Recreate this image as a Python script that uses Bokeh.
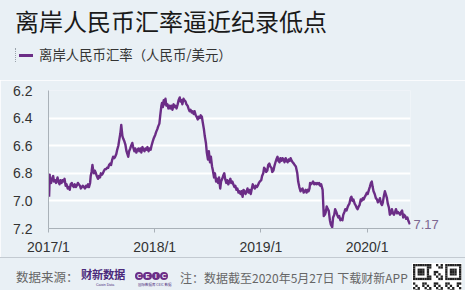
import pandas as pd
from bokeh.plotting import figure
from bokeh.layouts import column
from bokeh.models import (Range1d, FixedTicker, DatetimeTickFormatter, NumeralTickFormatter,
                          LinearAxis, Div)
from bokeh.embed import file_html
from bokeh.resources import INLINE

# ---------------- data ----------------
dates_2017 = [
    "2017-01-03", "2017-01-04", "2017-01-05", "2017-01-06", "2017-01-10", "2017-01-13", "2017-01-17", "2017-01-20",
    "2017-01-24", "2017-01-27", "2017-02-01", "2017-02-04", "2017-02-08", "2017-02-11", "2017-02-15", "2017-02-18",
    "2017-02-22", "2017-02-25", "2017-03-01", "2017-03-04", "2017-03-08", "2017-03-11", "2017-03-15", "2017-03-18",
    "2017-03-22", "2017-03-25", "2017-03-29", "2017-04-01", "2017-04-05", "2017-04-08", "2017-04-12", "2017-04-15",
    "2017-04-19", "2017-04-22", "2017-04-26", "2017-04-29", "2017-05-03", "2017-05-06", "2017-05-10", "2017-05-13",
    "2017-05-17", "2017-05-20", "2017-05-24", "2017-05-26", "2017-05-29", "2017-06-01", "2017-06-03", "2017-06-06",
    "2017-06-09", "2017-06-13", "2017-06-16", "2017-06-20", "2017-06-23", "2017-06-27", "2017-06-30", "2017-07-04",
    "2017-07-07", "2017-07-11", "2017-07-14", "2017-07-18", "2017-07-21", "2017-07-25", "2017-07-28", "2017-08-01",
    "2017-08-04", "2017-08-08", "2017-08-11", "2017-08-15", "2017-08-18", "2017-08-22", "2017-08-25", "2017-08-29",
    "2017-09-01", "2017-09-05", "2017-09-08", "2017-09-10", "2017-09-12", "2017-09-15", "2017-09-19", "2017-09-22",
    "2017-09-26", "2017-09-29", "2017-10-02", "2017-10-05", "2017-10-09", "2017-10-12", "2017-10-16", "2017-10-19",
    "2017-10-23", "2017-10-26", "2017-10-30", "2017-11-02", "2017-11-06", "2017-11-09", "2017-11-13", "2017-11-16",
    "2017-11-20", "2017-11-23", "2017-11-27", "2017-11-30", "2017-12-04", "2017-12-07", "2017-12-11", "2017-12-14",
    "2017-12-18", "2017-12-21", "2017-12-25", "2017-12-28",
]
rate_2017 = [
    6.97, 6.91, 6.81, 6.85, 6.87, 6.84, 6.82, 6.86,
    6.85, 6.87, 6.83, 6.86, 6.88, 6.85, 6.87, 6.85,
    6.86, 6.84, 6.89, 6.88, 6.91, 6.90, 6.92, 6.88,
    6.87, 6.89, 6.90, 6.88, 6.90, 6.89, 6.87, 6.88,
    6.89, 6.91, 6.90, 6.89, 6.90, 6.91, 6.89, 6.90,
    6.88, 6.90, 6.87, 6.82, 6.79, 6.74, 6.77, 6.80,
    6.78, 6.80, 6.82, 6.84, 6.82, 6.83, 6.80, 6.81,
    6.80, 6.78, 6.77, 6.77, 6.76, 6.76, 6.74, 6.73,
    6.74, 6.70, 6.68, 6.69, 6.68, 6.66, 6.63, 6.60,
    6.56, 6.51, 6.45, 6.49, 6.53, 6.55, 6.57, 6.59,
    6.64, 6.66, 6.68, 6.64, 6.62, 6.60, 6.58, 6.61,
    6.64, 6.62, 6.65, 6.63, 6.62, 6.64, 6.62, 6.65,
    6.61, 6.63, 6.64, 6.62, 6.63, 6.61, 6.64, 6.62,
    6.63, 6.60, 6.57, 6.55,
]
dates_2018 = [
    "2018-01-03", "2018-01-06", "2018-01-10", "2018-01-13", "2018-01-17", "2018-01-20", "2018-01-24", "2018-01-26",
    "2018-01-29", "2018-02-01", "2018-02-04", "2018-02-07", "2018-02-10", "2018-02-14", "2018-02-17", "2018-02-21",
    "2018-02-24", "2018-02-28", "2018-03-03", "2018-03-07", "2018-03-10", "2018-03-14", "2018-03-17", "2018-03-21",
    "2018-03-24", "2018-03-28", "2018-03-31", "2018-04-03", "2018-04-06", "2018-04-10", "2018-04-13", "2018-04-17",
    "2018-04-20", "2018-04-24", "2018-04-27", "2018-05-01", "2018-05-04", "2018-05-08", "2018-05-11", "2018-05-15",
    "2018-05-18", "2018-05-22", "2018-05-25", "2018-05-29", "2018-06-01", "2018-06-05", "2018-06-08", "2018-06-12",
    "2018-06-15", "2018-06-19", "2018-06-22", "2018-06-26", "2018-06-29", "2018-07-03", "2018-07-06", "2018-07-10",
    "2018-07-13", "2018-07-17", "2018-07-20", "2018-07-24", "2018-07-27", "2018-07-31", "2018-08-03", "2018-08-07",
    "2018-08-10", "2018-08-14", "2018-08-17", "2018-08-21", "2018-08-24", "2018-08-28", "2018-08-31", "2018-09-04",
    "2018-09-07", "2018-09-11", "2018-09-14", "2018-09-18", "2018-09-21", "2018-09-25", "2018-09-28", "2018-10-02",
    "2018-10-05", "2018-10-09", "2018-10-12", "2018-10-16", "2018-10-19", "2018-10-23", "2018-10-26", "2018-10-30",
    "2018-11-02", "2018-11-06", "2018-11-09", "2018-11-13", "2018-11-16", "2018-11-20", "2018-11-23", "2018-11-27",
    "2018-11-30", "2018-12-04", "2018-12-07", "2018-12-11", "2018-12-14", "2018-12-18", "2018-12-21", "2018-12-25",
    "2018-12-28",
]
rate_2018 = [
    6.52, 6.50, 6.48, 6.46, 6.44, 6.38, 6.31, 6.29,
    6.32, 6.27, 6.30, 6.26, 6.31, 6.30, 6.33, 6.31,
    6.33, 6.31, 6.34, 6.30, 6.32, 6.31, 6.33, 6.30,
    6.27, 6.25, 6.28, 6.27, 6.30, 6.26, 6.27, 6.28,
    6.30, 6.31, 6.33, 6.35, 6.34, 6.36, 6.35, 6.37,
    6.35, 6.38, 6.39, 6.41, 6.39, 6.40, 6.38, 6.39,
    6.43, 6.48, 6.53, 6.58, 6.65, 6.70, 6.64, 6.72,
    6.68, 6.75, 6.78, 6.83, 6.80, 6.86, 6.84, 6.87,
    6.83, 6.91, 6.86, 6.84, 6.82, 6.80, 6.84, 6.87,
    6.85, 6.88, 6.86, 6.84, 6.87, 6.86, 6.88, 6.90,
    6.89, 6.92, 6.91, 6.94, 6.93, 6.95, 6.93, 6.97,
    6.92, 6.93, 6.95, 6.93, 6.91, 6.94, 6.92, 6.95,
    6.92, 6.88, 6.90, 6.91, 6.89, 6.90, 6.89, 6.87,
    6.86,
]
dates_2019 = [
    "2019-01-02", "2019-01-05", "2019-01-09", "2019-01-12", "2019-01-16", "2019-01-19", "2019-01-23", "2019-01-26",
    "2019-01-30", "2019-02-02", "2019-02-06", "2019-02-09", "2019-02-13", "2019-02-16", "2019-02-20", "2019-02-23",
    "2019-02-27", "2019-03-02", "2019-03-06", "2019-03-09", "2019-03-13", "2019-03-16", "2019-03-20", "2019-03-23",
    "2019-03-27", "2019-03-30", "2019-04-03", "2019-04-06", "2019-04-10", "2019-04-13", "2019-04-17", "2019-04-20",
    "2019-04-24", "2019-04-27", "2019-05-01", "2019-05-06", "2019-05-09", "2019-05-13", "2019-05-17", "2019-05-20",
    "2019-05-24", "2019-05-28", "2019-05-31", "2019-06-04", "2019-06-07", "2019-06-11", "2019-06-14", "2019-06-17",
    "2019-06-19", "2019-06-22", "2019-06-26", "2019-06-29", "2019-07-03", "2019-07-06", "2019-07-10", "2019-07-13",
    "2019-07-17", "2019-07-20", "2019-07-24", "2019-07-27", "2019-08-01", "2019-08-05", "2019-08-07", "2019-08-09",
    "2019-08-12", "2019-08-15", "2019-08-19", "2019-08-22", "2019-08-26", "2019-08-29", "2019-09-03", "2019-09-06",
    "2019-09-10", "2019-09-13", "2019-09-17", "2019-09-20", "2019-09-24", "2019-09-27", "2019-10-01", "2019-10-04",
    "2019-10-08", "2019-10-11", "2019-10-15", "2019-10-18", "2019-10-22", "2019-10-25", "2019-10-29", "2019-11-01",
    "2019-11-05", "2019-11-08", "2019-11-12", "2019-11-15", "2019-11-19", "2019-11-22", "2019-11-26", "2019-11-29",
    "2019-12-03", "2019-12-06", "2019-12-10", "2019-12-13", "2019-12-17", "2019-12-20", "2019-12-24", "2019-12-27",
    "2019-12-31",
]
rate_2019 = [
    6.85, 6.82, 6.80, 6.76, 6.77, 6.79, 6.78, 6.74,
    6.73, 6.75, 6.76, 6.79, 6.78, 6.75, 6.72, 6.70,
    6.68, 6.71, 6.72, 6.69, 6.71, 6.69, 6.70, 6.72,
    6.69, 6.71, 6.72, 6.70, 6.71, 6.69, 6.71, 6.72,
    6.73, 6.74, 6.75, 6.80, 6.86, 6.90, 6.93, 6.92,
    6.91, 6.94, 6.93, 6.92, 6.94, 6.92, 6.93, 6.91,
    6.87, 6.88, 6.87, 6.86, 6.88, 6.87, 6.88, 6.87,
    6.88, 6.87, 6.89, 6.88, 6.92, 7.11, 7.07, 7.10,
    7.08, 7.04, 7.06, 7.07, 7.14, 7.17, 7.19, 7.12,
    7.10, 7.06, 7.08, 7.10, 7.12, 7.11, 7.14, 7.13,
    7.14, 7.10, 7.08, 7.06, 7.07, 7.05, 7.03, 7.02,
    6.98, 6.97, 7.00, 6.99, 7.02, 7.03, 7.05, 7.06,
    7.04, 7.03, 6.99, 7.00, 6.98, 6.99, 6.97, 6.96,
    6.94,
]
dates_2020 = [
    "2020-01-03", "2020-01-07", "2020-01-10", "2020-01-14", "2020-01-17", "2020-01-20", "2020-01-23", "2020-01-27",
    "2020-01-31", "2020-02-04", "2020-02-07", "2020-02-11", "2020-02-14", "2020-02-18", "2020-02-21", "2020-02-24",
    "2020-02-27", "2020-03-02", "2020-03-05", "2020-03-09", "2020-03-12", "2020-03-16", "2020-03-19", "2020-03-23",
    "2020-03-26", "2020-03-30", "2020-04-02", "2020-04-06", "2020-04-09", "2020-04-13", "2020-04-16", "2020-04-20",
    "2020-04-23", "2020-04-27", "2020-04-30", "2020-05-04", "2020-05-07", "2020-05-11", "2020-05-14", "2020-05-18",
    "2020-05-21", "2020-05-25", "2020-05-27",
]
rate_2020 = [
    6.95, 6.92, 6.90, 6.87, 6.86, 6.90, 6.93, 6.95,
    6.98, 6.99, 7.01, 7.00, 6.98, 7.02, 7.03, 7.01,
    6.97, 6.93, 6.95, 6.98, 7.02, 7.05, 7.10, 7.09,
    7.06, 7.09, 7.10, 7.08, 7.06, 7.09, 7.08, 7.09,
    7.10, 7.08, 7.07, 7.12, 7.10, 7.11, 7.13, 7.12,
    7.14, 7.16, 7.17,
]
y_ticks = [6.2, 6.4, 6.6, 6.8, 7.0, 7.2]
x_tick_dates = ["2017-01-01", "2018-01-01", "2019-01-01", "2020-01-01"]

title_text = "离岸人民币汇率逼近纪录低点"
legend_text = "离岸人民币汇率（人民币/美元）"
source_text = "数据来源："
note_text = "注：数据截至2020年5月27日 下载财新APP"

dates = dates_2017 + dates_2018 + dates_2019 + dates_2020
cnh_rate = rate_2017 + rate_2018 + rate_2019 + rate_2020
assert len(dates) == len(cnh_rate), (len(dates), len(cnh_rate))

# ---------------- style ----------------
BG = "#e9f0f5"
PURPLE = "#6b2d86"
CJK = "Noto Sans CJK SC"
LAT = "Liberation Sans"

x = pd.to_datetime(dates)

# ---------------- header ----------------
header_html = f"""
<div style="position:relative;width:465px;height:80px;background:{BG};overflow:hidden;">
  <div style="position:absolute;left:15px;top:9px;font-family:'{CJK}';font-size:24px;line-height:24px;
              color:#1a1a1a;white-space:nowrap;">{title_text}</div>
  <div style="position:absolute;left:15px;top:48px;height:14px;border-left:1px dotted #9aa3ab;"></div>
  <div style="position:absolute;left:19px;top:54px;width:14px;height:3px;background:{PURPLE};"></div>
  <div style="position:absolute;left:39px;top:47px;font-family:'{CJK}';font-size:13.4px;line-height:14px;
              color:#333333;white-space:nowrap;">{legend_text}</div>
</div>
"""
header = Div(text=header_html, width=465, height=80, margin=0,
             styles={"background-color": BG})

# ---------------- chart ----------------
p = figure(width=465, height=177, x_axis_type="datetime",
           x_range=Range1d(pd.Timestamp("2017-01-01"), pd.Timestamp("2020-05-29")),
           y_range=Range1d(7.2, 6.2),
           output_backend="svg", toolbar_location=None,
           min_border_left=48, min_border_right=55, min_border_top=10, min_border_bottom=28)
p.background_fill_color = BG
p.border_fill_color = BG
p.outline_line_color = None

p.line(x, cnh_rate, line_color=PURPLE, line_width=2.4, line_join="round")

p.xaxis.ticker = FixedTicker(ticks=[pd.Timestamp(d).value / 1e6 for d in x_tick_dates])
p.xaxis.formatter = DatetimeTickFormatter(years="%Y/1", months="%Y/1", days="%Y/1",
                                          hours="%Y/1", minutes="%Y/1")
p.xaxis.axis_line_color = "#a9b1b8"
p.xaxis.major_tick_line_color = "#a9b1b8"
p.xaxis.major_tick_in = 0
p.xaxis.major_tick_out = 4
p.xaxis.minor_tick_line_color = None
p.xaxis.major_label_standoff = 6
p.xaxis.major_label_text_font = LAT
p.xaxis.major_label_text_font_size = "14px"
p.xaxis.major_label_text_color = "#333333"

p.yaxis.ticker = FixedTicker(ticks=y_ticks)
p.yaxis.formatter = NumeralTickFormatter(format="0.0")
p.yaxis.axis_line_color = "#a9b1b8"
p.yaxis.major_tick_line_color = None
p.yaxis.major_tick_in = 0
p.yaxis.major_tick_out = 0
p.yaxis.minor_tick_line_color = None
p.yaxis.major_label_standoff = 16
p.yaxis.major_label_text_font = LAT
p.yaxis.major_label_text_font_size = "14px"
p.yaxis.major_label_text_color = "#333333"

# last-value marker on a right-hand axis
last_axis = LinearAxis(ticker=FixedTicker(ticks=[cnh_rate[-1]]),
                       formatter=NumeralTickFormatter(format="0.00"))
last_axis.axis_line_color = None
last_axis.major_tick_line_color = None
last_axis.minor_tick_line_color = None
last_axis.major_tick_in = 0
last_axis.major_tick_out = 0
last_axis.major_label_standoff = 3
last_axis.major_label_text_font = LAT
last_axis.major_label_text_font_size = "13px"
last_axis.major_label_text_color = "#7d6891"
p.add_layout(last_axis, "right")

p.xgrid.grid_line_color = None
p.ygrid.grid_line_color = "white"
p.ygrid.grid_line_width = 2

# ---------------- footer ----------------
mod = 2.3
n = 21
def finder(i, j):
    for (ci, cj) in [(0, 0), (0, n - 7), (n - 7, 0)]:
        di, dj = i - ci, j - cj
        if 0 <= di < 7 and 0 <= dj < 7:
            return di in (0, 6) or dj in (0, 6) or (2 <= di <= 4 and 2 <= dj <= 4)
    return None
rects = []
for i in range(n):
    for j in range(n):
        fv = finder(i, j)
        on = (((i * 7 + j * 13 + i * j) % 5) < 2) if fv is None else fv
        if on:
            rects.append(f'<rect x="{j*mod:.2f}" y="{i*mod:.2f}" width="{mod:.2f}" height="{mod:.2f}"/>')
qr_svg = (f'<svg width="{n*mod+2:.1f}" height="{n*mod+2:.1f}" style="position:absolute;left:412px;top:5px;">'
          f'<rect x="0" y="0" width="{n*mod+2:.1f}" height="{n*mod+2:.1f}" fill="white"/>'
          f'<g transform="translate(1,1)" fill="#222">' + "".join(rects) + '</g></svg>')

circles = "".join(
    f'<div style="position:absolute;left:{135 + k*8.3:.1f}px;top:13.5px;width:8.4px;height:8.4px;border-radius:50%;'
    f'background:{PURPLE};color:white;font:bold 6px {LAT};line-height:8.4px;text-align:center;">{ch}</div>'
    for k, ch in enumerate("CEIC"))

footer_html = f"""
<div style="position:relative;width:465px;height:33px;background:{BG};overflow:hidden;
            border-top:1px solid #c3cad1;box-sizing:border-box;">
  <div style="position:absolute;left:16px;top:12px;font-family:'{CJK}';font-size:12.5px;line-height:14px;
              color:#666666;white-space:nowrap;">{source_text}</div>
  <div style="position:absolute;left:81px;top:11px;font-family:'{CJK}';font-weight:bold;font-size:11.3px;
              line-height:11px;color:#4b2a7b;white-space:nowrap;letter-spacing:-0.3px;">财新数据</div>
  <div style="position:absolute;left:96px;top:24.5px;font-family:'{LAT}';font-size:3.5px;line-height:4px;
              color:#4b2a7b;white-space:nowrap;">Caixin Data</div>
  {circles}
  <div style="position:absolute;left:138px;top:24.5px;font-family:'{CJK}';font-size:3.5px;line-height:4px;
              color:#4b2a7b;white-space:nowrap;">国际数据库 CEIC 数据</div>
  <div style="position:absolute;left:180px;top:12.5px;font-family:'{CJK}';font-size:12px;line-height:14px;
              color:#666666;white-space:nowrap;">{note_text}</div>
  {qr_svg}
</div>
"""
footer = Div(text=footer_html, width=465, height=33, margin=0,
             styles={"background-color": BG})

layout = column(header, p, footer, spacing=0)
open("out.html", "w").write(file_html(layout, INLINE))
